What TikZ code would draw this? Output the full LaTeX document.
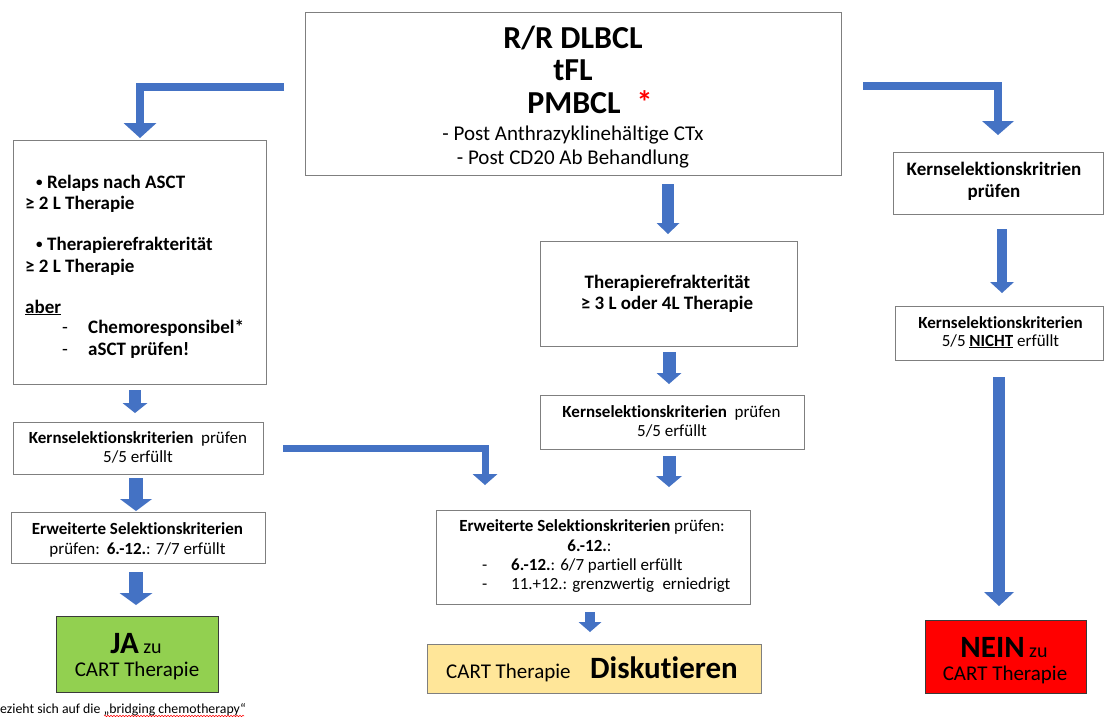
\documentclass[tikz,border=0pt]{standalone}
\usepackage{fontspec}
\setmainfont{Carlito}[Ligatures=NoCommon]
\usetikzlibrary{arrows.meta,fit,calc,decorations.pathmorphing}
\definecolor{ablue}{HTML}{4472C4}
\definecolor{bgray}{HTML}{7F7F7F}
\definecolor{darkb}{HTML}{3A3A3A}
\definecolor{jagreen}{HTML}{92D050}
\definecolor{diskyellow}{HTML}{FFE699}
\definecolor{neinred}{HTML}{FF0000}
\newcommand\fsz[1]{\fontsize{#1}{#1}\selectfont}
\newcommand\smbullet{\raisebox{2pt}{\fsz{13}•}}
\begin{document}
\begin{tikzpicture}[x=1pt,y=-1pt,
 box/.style={draw=bgray, line width=1pt, inner sep=0pt},
 txt/.style={inner sep=0pt, anchor=base},
 txtl/.style={inner sep=0pt, anchor=base west},
 blk/.style n args={3}{draw=ablue, line width=#1pt, line join=miter, -{Triangle[width=#2pt,length=#3pt,line width=0pt]}},
]
\useasboundingbox (0,0) rectangle (1104,716);

% ---------- top box
\node[box, fit={(305,12)(841,175)}] (top) {};
\node[txt, font=\fsz{32}\bfseries] (topA) at (573,48) {R/R DLBCL};
\node[txt, font=\fsz{32}\bfseries] (topB) at (573,80) {tFL};
\node[txt, font=\fsz{32}\bfseries] (topC) at (574,113) {PMBCL\rlap{\hspace{16pt}\textcolor{red}{*}}};
\node[txt, font=\fsz{21}] (topD) at (573,140) {- Post Anthrazyklinehältige CTx};
\node[txt, font=\fsz{21}] (topE) at (573,164) {- Post CD20 Ab Behandlung};

% ---------- left column
\node[box, fit={(13,140)(266,384)}] (L1) {};
\node[txtl, font=\fsz{19}\bfseries] (L1a) at (36,188) {\smbullet\hspace{4.5pt}Relaps nach ASCT};
\node[txtl, font=\fsz{19}\bfseries] (L1b) at (25,209) {≥ 2 L Therapie};
\node[txtl, font=\fsz{19}\bfseries] (L1c) at (36,250) {\smbullet\hspace{4.5pt}Therapierefrakterität};
\node[txtl, font=\fsz{19}\bfseries] (L1d) at (25,272) {≥ 2 L Therapie};
\node[txtl, font=\fsz{19}\bfseries] (L1e) at (25,313) {\underline{aber}};
\node[txtl, font=\fsz{19}] (L1f) at (62,333) {-};
\node[txtl, font=\fsz{19}\bfseries] (L1g) at (88,333) {Chemoresponsibel*};
\node[txtl, font=\fsz{19}] (L1h) at (62,355) {-};
\node[txtl, font=\fsz{19}\bfseries] (L1i) at (88,355) {aSCT prüfen!};

\node[box, fit={(13,422)(263,474)}] (L2) {};
\node[txt, font=\fsz{17}] (L2a) at (138,443) {\textbf{Kernselektionskriterien}\hspace{0.45em}prüfen};
\node[txt, font=\fsz{17}] (L2b) at (138,462) {5/5 erfüllt};

\node[box, fit={(11,512)(265,563)}] (L3) {};
\node[txt, font=\fsz{17}] (L3a) at (137.5,534) {\textbf{Erweiterte Selektionskriterien}};
\node[txt, font=\fsz{17}] (L3b) at (137.5,554) {prüfen:\hspace{0.4em}\textbf{6.-12.}: 7/7 erfüllt};

\node[box, draw=darkb, fill=jagreen, fit={(56,616)(218,692)}] (JA) {};
\node[txt, font=\fsz{20}] (JAa) at (136,653) {{\fsz{31}\bfseries JA} zu};
\node[txt, font=\fsz{21}] (JAb) at (137,676) {CART Therapie};

% ---------- middle column
\node[box, fit={(540,241)(797,346)}] (M1) {};
\node[txt, font=\fsz{19}\bfseries] (M1a) at (667.5,288) {Therapierefrakterität};
\node[txt, font=\fsz{19}\bfseries] (M1b) at (667,309) {≥ 3 L oder 4L Therapie};

\node[box, fit={(540,395)(804,449)}] (M2) {};
\node[txt, font=\fsz{17}] (M2a) at (671.5,417) {\textbf{Kernselektionskriterien}\hspace{0.45em}prüfen};
\node[txt, font=\fsz{17}] (M2b) at (672,436) {5/5 erfüllt};

\node[box, fit={(436,510)(750,604)}] (M3) {};
\node[txt, font=\fsz{17}] (M3a) at (592,531) {\textbf{Erweiterte Selektionskriterien} prüfen:};
\node[txt, font=\fsz{17}] (M3b) at (589.5,551) {\textbf{6.-12.}:};
\node[txtl, font=\fsz{17}] (M3c) at (482,570) {-};
\node[txtl, font=\fsz{17}] (M3d) at (511,570) {\textbf{6.-12.}: 6/7 partiell erfüllt};
\node[txtl, font=\fsz{17}] (M3e) at (482,589) {-};
\node[txtl, font=\fsz{17}] (M3f) at (511,589) {11.+12.: grenzwertig\hspace{0.5em}erniedrigt};

\node[box, fill=diskyellow, fit={(427,644)(761,693)}] (M4) {};
\node[txtl, font=\fsz{21}] (M4a) at (446,678) {CART Therapie};
\node[txtl, font=\fsz{31}\bfseries] (M4b) at (590,678) {Diskutieren};

% ---------- right column
\node[box, fit={(893,152)(1103,214)}] (R1) {};
\node[txt, font=\fsz{19}\bfseries] (R1a) at (994,175) {Kernselektionskritrien};
\node[txt, font=\fsz{19}\bfseries] (R1b) at (994,197) {prüfen};

\node[box, fit={(895,306)(1103,360)}] (R2) {};
\node[txt, font=\fsz{17}] (R2a) at (1000.5,328) {\textbf{Kernselektionskriterien}};
\node[txt, font=\fsz{17}] (R2b) at (1000.5,346) {5/5 \textbf{\underline{NICHT}} erfüllt};

\node[box, draw=darkb, fill=neinred, fit={(925,620)(1086,693)}] (R3) {};
\node[txt, font=\fsz{20}] (R3a) at (1004,657) {{\fsz{31}\bfseries NEIN} zu};
\node[txt, font=\fsz{21}] (R3b) at (1005,680) {CART Therapie};

% ---------- footnote
\node[txtl, font=\fsz{13.8}] (fn) at (0,713) {ezieht sich auf die „bridging chemotherapy“};
\draw[red, line width=0.5pt, decorate, decoration={snake, amplitude=0.7pt, segment length=3pt}]
  ($(fn.base east)+(-142,3)$) -- ($(fn.base east)+(-2,3)$);

% ---------- arrow end points
\coordinate (lb0) at (284,87);   \coordinate (lbt) at (140,138);
\coordinate (rb0) at (863,86);   \coordinate (rbt) at (998,135);
\coordinate (mb0) at (283,448.5);\coordinate (mbt) at (485,485);
\coordinate (md1s) at (668,184); \coordinate (md1t) at (668,234);
\coordinate (md2s) at (669,352); \coordinate (md2t) at (669,384);
\coordinate (md3s) at (669,456); \coordinate (md3t) at (669,487);
\coordinate (md4s) at (590,612); \coordinate (md4t) at (590,632);
\coordinate (ld1s) at (135,390); \coordinate (ld1t) at (135,413);
\coordinate (ld2s) at (136,478); \coordinate (ld2t) at (136,511);
\coordinate (ld3s) at (136,572); \coordinate (ld3t) at (136,605);
\coordinate (rd1s) at (1002,229);\coordinate (rd1t) at (1002,293);
\coordinate (rd2s) at (999,377); \coordinate (rd2t) at (999,606);

% ---------- arrows
\draw[blk={8.5}{33}{15}] (lb0) -| (lbt);
\draw[blk={8.5}{32}{14}] (rb0) -| (rbt);
\draw[blk={7}{25}{11}] (mb0) -| (mbt);
\draw[blk={12}{23}{11}] (md1s) -- (md1t);
\draw[blk={13}{25}{11}] (md2s) -- (md2t);
\draw[blk={13}{26}{11}] (md3s) -- (md3t);
\draw[blk={10}{23}{10}] (md4s) -- (md4t);
\draw[blk={12}{25}{10}] (ld1s) -- (ld1t);
\draw[blk={14}{32}{12}] (ld2s) -- (ld2t);
\draw[blk={14}{33}{12}] (ld3s) -- (ld3t);
\draw[blk={10}{24}{11}] (rd1s) -- (rd1t);
\draw[blk={12}{30}{14}] (rd2s) -- (rd2t);
\end{tikzpicture}
\end{document}
